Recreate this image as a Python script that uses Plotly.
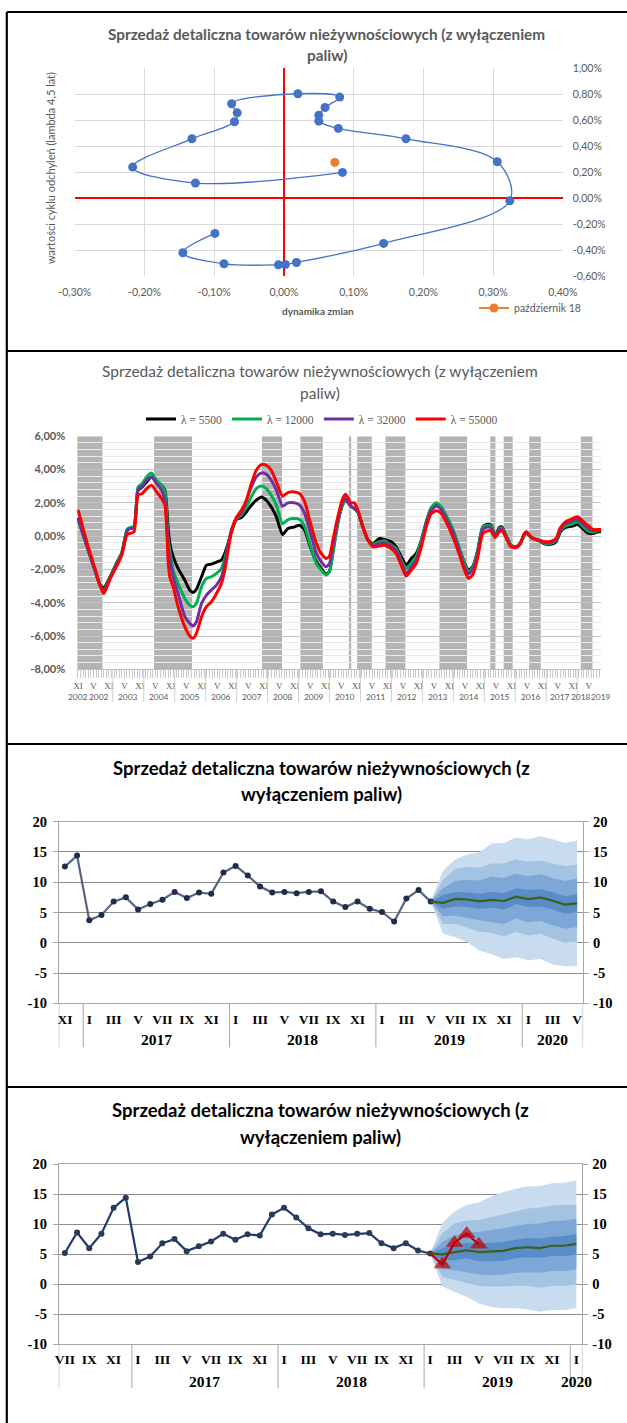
import plotly.graph_objects as go

W, H = 627, 1423


def X(p):
    return p / W


def Y(p):
    return 1 - p / H


GRAY = "#595959"
SANS = "Lato"
SERIF = "Liberation Serif"

# ---------------- Panel 1: cycle clock ----------------
cycle_dyn = [-0.099, -0.145, -0.086, -0.008, 0.002, 0.018, 0.143, 0.324, 0.306, 0.175,
             0.078, 0.050, 0.050, 0.059, 0.080, 0.020, -0.075, -0.067, -0.071, -0.132,
             -0.217, -0.127, 0.084]
cycle_val = [-0.272, -0.421, -0.506, -0.514, -0.511, -0.496, -0.349, -0.021, 0.280, 0.457,
             0.537, 0.593, 0.639, 0.698, 0.778, 0.804, 0.727, 0.657, 0.588, 0.457,
             0.239, 0.116, 0.198]
last_dyn = [0.073]
last_val = [0.275]
last_label = "październik 18"
p1_xticks = [-0.3, -0.2, -0.1, 0.0, 0.1, 0.2, 0.3, 0.4]
p1_xtext = ["-0,30%", "-0,20%", "-0,10%", "0,00%", "0,10%", "0,20%", "0,30%", "0,40%"]
p1_yticks = [-0.6, -0.4, -0.2, 0.0, 0.2, 0.4, 0.6, 0.8, 1.0]
p1_ytext = ["-0,60%", "-0,40%", "-0,20%", "0,00%", "0,20%", "0,40%", "0,60%", "0,80%", "1,00%"]

# ---------------- Panel 2: HP-filter cycles (month index from XI 2001) ----------------
p2_month = [0, 4, 7, 8.5, 10, 12.4, 15, 17, 19, 20, 21.7, 23.3, 24.9, 26.6, 28.5, 30.5, 32.4,
            33.7, 35, 35.6, 36.9, 38.8, 41.4, 43.3, 44.6, 45.9, 47.9, 49.8, 51.7, 53.7, 55.6,
            56.9, 58.2, 59.5, 61.4, 63.3, 65.3, 67.2, 69.1, 71.1, 73, 74.9, 76.9, 79.3, 81.4,
            84, 85.9, 87.9, 89.8, 92.4, 94.3, 96.2, 97.5, 98.8, 100.7, 102.6, 103.7, 104.5,
            105.8, 107.1, 108.5, 110.4, 112.4, 114.3, 116.9, 118.8, 121.4, 123.3, 125.3, 127.2,
            129.2, 131.1, 133.1, 135, 136.9, 138.9, 140.8, 142.7, 145.3, 147.9, 149.8, 151.4,
            153.1, 155, 156.9, 158.8, 160.1, 161.7, 163.3, 164.3, 165.8, 167.8, 169.7, 171.3,
            173, 173.9, 175.6, 177.5, 179.5, 181.2, 183.7, 185.3, 187, 188.9, 191.7, 193.6,
            195.6, 197.5, 199.7, 201.4, 202.8]
lam5500 = [1.1, -0.85, -2.25, -2.9, -3.1, -2.45, -1.6, -1.0, 0.35, 0.45, 0.55, 2.76, 2.96, 3.26,
           3.56, 3.26, 3.06, 2.76, 0.36, -0.44, -1.24, -1.94, -2.64, -3.24, -3.38, -3.2, -2.44,
           -1.74, -1.68, -1.56, -1.44, -1.04, -0.44, 0.26, 1.0, 1.12, 1.46, 1.86, 2.16, 2.36,
           2.16, 1.76, 1.16, 0.1, 0.46, 0.56, 0.66, 0.36, -0.54, -1.54, -1.94, -2.28, -2.1,
           -0.95, 0.8, 1.9, 2.16, 2.06, 1.8, 1.66, 1.46, 0.56, -0.24, -0.44, -0.14, -0.2,
           -0.34, -0.64, -1.24, -1.74, -1.34, -1.04, -0.24, 0.86, 1.66, 1.92, 1.72, 1.2, 0.36,
           -0.8, -1.6, -2.04, -1.8, -0.8, 0.56, 0.72, 0.66, 0.06, 0.52, 0.56, 0.06, -0.54,
           -0.64, -0.44, 0.06, 0.2, -0.08, -0.2, -0.34, -0.48, -0.48, -0.34, 0.26, 0.52, 0.6,
           0.72, 0.46, 0.2, 0.16, 0.26, 0.26]
lam12000 = [1.0, -0.85, -2.25, -2.9, -3.2, -2.5, -1.65, -1.0, 0.4, 0.5, 0.6, 2.96, 3.16, 3.56,
            3.8, 3.35, 3.06, 2.66, -0.24, -0.84, -2.04, -2.84, -3.74, -4.14, -4.24, -4.04,
            -3.04, -2.54, -2.44, -2.24, -1.94, -1.34, -0.54, 0.36, 1.0, 1.26, 1.76, 2.36, 2.86,
            3.02, 2.86, 2.46, 1.86, 0.75, 1.0, 1.06, 1.0, 0.56, -0.44, -1.64, -2.04, -2.34,
            -2.14, -1.04, 0.76, 1.92, 2.1, 2.06, 1.8, 1.66, 1.46, 0.56, -0.24, -0.48, -0.34,
            -0.28, -0.54, -0.74, -1.44, -1.94, -1.64, -1.24, -0.24, 0.86, 1.72, 2.0, 1.76, 1.26,
            0.4, -0.74, -1.64, -2.14, -1.84, -0.84, 0.56, 0.66, 0.62, 0.04, 0.46, 0.5, 0.05,
            -0.56, -0.66, -0.46, 0.08, 0.22, -0.06, -0.2, -0.32, -0.44, -0.42, -0.28, 0.34, 0.62,
            0.74, 0.86, 0.6, 0.34, 0.24, 0.32, 0.32]
lam32000 = [1.05, -0.85, -2.25, -2.95, -3.25, -2.55, -1.7, -1.05, 0.3, 0.45, 0.5, 2.8, 3.0, 3.36,
            3.56, 3.16, 2.76, 2.16, -0.64, -1.34, -2.44, -3.44, -4.84, -5.24, -5.4, -5.14,
            -4.04, -3.54, -3.24, -2.94, -2.44, -1.64, -0.54, 0.36, 1.06, 1.36, 2.16, 2.96, 3.56,
            3.8, 3.72, 3.36, 2.76, 1.8, 2.0, 2.0, 1.86, 1.36, 0.36, -1.04, -1.54, -1.84, -1.64,
            -0.64, 0.96, 2.06, 2.26, 2.06, 1.8, 1.66, 1.46, 0.56, -0.24, -0.54, -0.44, -0.4,
            -0.6, -0.88, -1.54, -2.24, -1.84, -1.44, -0.44, 0.76, 1.56, 1.8, 1.6, 1.06, 0.26,
            -0.94, -1.84, -2.28, -2.0, -1.0, 0.4, 0.55, 0.5, 0.0, 0.4, 0.42, 0.0, -0.6, -0.68,
            -0.48, 0.12, 0.24, -0.05, -0.2, -0.3, -0.4, -0.36, -0.2, 0.42, 0.74, 0.9, 1.0, 0.76,
            0.5, 0.32, 0.36, 0.36]
lam55000 = [1.6, -0.65, -2.15, -2.95, -3.45, -2.6, -1.8, -1.15, 0.1, 0.16, 0.26, 2.46, 2.56,
            2.86, 3.06, 2.66, 2.26, 1.86, -1.64, -2.44, -3.04, -4.24, -5.44, -6.0, -6.14, -5.84,
            -4.84, -4.24, -3.94, -3.44, -2.84, -2.04, -0.84, 0.26, 1.12, 1.56, 2.16, 3.16, 3.96,
            4.3, 4.26, 3.96, 3.26, 2.4, 2.62, 2.66, 2.56, 2.06, 0.96, -0.44, -1.04, -1.34, -1.2,
            -0.24, 1.16, 2.26, 2.52, 2.36, 2.0, 2.0, 1.56, 0.56, -0.24, -0.64, -0.6, -0.54,
            -0.74, -1.04, -1.74, -2.4, -2.04, -1.64, -0.64, 0.56, 1.36, 1.52, 1.36, 0.86, -0.04,
            -1.14, -2.04, -2.54, -2.3, -1.24, 0.16, 0.32, 0.32, -0.08, 0.26, 0.32, -0.04, -0.64,
            -0.7, -0.5, 0.16, 0.26, -0.04, -0.2, -0.28, -0.34, -0.28, -0.14, 0.52, 0.86, 1.06,
            1.16, 0.92, 0.66, 0.4, 0.4, 0.4]
band_start = [-0.3, 29.5, 71.3, 86.2, 105.0, 108.2, 119.2, 140.1, 159.8, 165.0, 174.9, 194.9]
band_end = [9.5, 44.2, 79.1, 94.9, 105.9, 113.9, 126.9, 150.8, 161.8, 168.5, 179.4, 199.4]
p2_yticks = [-8, -6, -4, -2, 0, 2, 4, 6]
p2_ytext = ["-8,00%", "-6,00%", "-4,00%", "-2,00%", "0,00%", "2,00%", "4,00%", "6,00%"]
p2_year_text = ["2002", "2002", "2003", "2004", "2005", "2006", "2007", "2008", "2009",
                "2010", "2011", "2012", "2013", "2014", "2015", "2016", "2017", "2018", "2019"]
p2_year_pos = [0.0, 8.0, 19.5, 31.5, 43.5, 55.5, 67.5, 79.5, 91.5, 103.5, 115.5, 127.5,
               139.5, 151.5, 163.5, 175.5, 187.0, 195.0, 202.6]
p2_year_sep = [13.5, 25.5, 37.5, 49.5, 61.5, 73.5, 85.5, 97.5, 109.5, 121.5, 133.5, 145.5,
               157.5, 169.5, 181.5, 193.5]
p2_last_month = 202

ROMAN = ["I", "II", "III", "IV", "V", "VI", "VII", "VIII", "IX", "X", "XI", "XII"]

# ---------------- Panel 3: fan chart (XI 2016 - V 2020) ----------------
p3_hist = [12.6, 14.4, 3.7, 4.6, 6.8, 7.5, 5.5, 6.4, 7.1, 8.4, 7.4, 8.3, 8.1, 11.6, 12.7, 11.1,
           9.3, 8.3, 8.4, 8.2, 8.4, 8.5, 6.8, 5.9, 6.8, 5.6, 5.1, 3.5, 7.3, 8.7, 6.8]
p3_center = [6.8, 6.6, 7.25, 7.15, 6.85, 7.1, 6.9, 7.6, 7.2, 7.5, 6.95, 6.3, 6.5]
p3_out_up = [6.8, 11.9, 13.8, 14.6, 15.0, 16.4, 16.5, 17.4, 17.1, 17.6, 17.1, 16.5, 16.9]
p3_b2_up = [6.8, 10.4, 12.2, 12.5, 12.4, 13.1, 13.1, 13.8, 13.4, 13.6, 13.1, 12.7, 12.9]
p3_b3_up = [6.8, 9.0, 10.2, 10.4, 10.3, 10.9, 10.7, 11.4, 11.0, 11.3, 10.7, 10.2, 10.6]
p3_in_up = [6.8, 7.9, 8.4, 8.3, 8.1, 8.4, 8.2, 9.0, 8.7, 8.9, 8.3, 7.7, 8.0]
p3_in_lo = [6.8, 5.6, 6.0, 5.9, 5.6, 5.8, 5.5, 6.4, 5.9, 6.0, 5.5, 4.8, 5.1]
p3_b3_lo = [6.8, 4.4, 4.5, 4.1, 3.7, 3.4, 3.1, 4.0, 3.4, 3.6, 2.9, 2.3, 2.6]
p3_b2_lo = [6.8, 3.1, 3.1, 2.5, 1.8, 1.6, 1.0, 1.8, 1.2, 1.5, 0.7, 0.0, 0.2]
p3_out_lo = [6.8, 1.5, 0.9, 0.1, -1.3, -1.9, -2.7, -2.4, -2.9, -2.7, -3.6, -3.9, -3.9]

# ---------------- Panel 4: fan chart (VII 2016 - I 2020) ----------------
p4_hist = [5.2, 8.6, 6.0, 8.4, 12.7, 14.4, 3.7, 4.6, 6.8, 7.5, 5.5, 6.3, 7.1, 8.4, 7.4, 8.3,
           8.1, 11.6, 12.7, 11.1, 9.3, 8.3, 8.4, 8.2, 8.4, 8.5, 6.8, 6.0, 6.8, 5.6, 5.1]
p4_actual = [5.1, 3.3, 6.9, 8.4, 6.6]
p4_center = [5.1, 4.95, 5.35, 5.65, 5.35, 5.45, 5.55, 6.0, 6.15, 6.0, 6.4, 6.4, 6.7]
p4_out_up = [5.1, 10.2, 12.1, 13.2, 13.6, 14.6, 15.3, 15.9, 16.3, 16.3, 16.8, 16.9, 17.3]
p4_b2_up = [5.1, 8.5, 10.1, 10.6, 10.7, 11.2, 11.6, 12.1, 12.6, 12.7, 13.1, 13.2, 13.2]
p4_b3_up = [5.1, 7.1, 8.1, 8.6, 8.7, 9.0, 9.3, 9.7, 10.0, 10.1, 10.5, 10.6, 10.9]
p4_in_up = [5.1, 6.0, 6.6, 6.9, 6.8, 6.9, 7.0, 7.4, 7.7, 7.6, 7.9, 8.0, 8.3]
p4_in_lo = [5.1, 4.0, 4.0, 4.3, 3.8, 3.8, 3.9, 4.3, 4.5, 4.4, 4.7, 4.7, 4.9]
p4_b3_lo = [5.1, 2.6, 2.3, 2.0, 1.6, 1.5, 1.6, 1.9, 2.0, 1.9, 2.2, 2.2, 2.5]
p4_b2_lo = [5.1, 1.2, 0.7, 0.2, -0.3, -0.4, -0.4, -0.3, -0.3, -0.6, -0.3, -0.3, -0.05]
p4_out_lo = [5.1, -0.4, -1.3, -2.1, -3.2, -3.8, -4.0, -4.0, -4.2, -4.6, -4.3, -4.3, -4.0]

fan_yticks = [-10, -5, 0, 5, 10, 15, 20]
fan_ytext = ["-10", "-5", "0", "5", "10", "15", "20"]
FAN_COLORS = ["#c9dcef", "#a3c3e3", "#7ca7d6", "#5a8dc8"]


def month_list(start, end):
    out = []
    y, m = start
    while (y, m) <= end:
        out.append((y, m))
        m += 1
        if m > 12:
            y, m = y + 1, 1
    return out


p3_cats = month_list((2016, 11), (2020, 5))
p4_cats = month_list((2016, 7), (2020, 1))

fig = go.Figure()

# ---- Panel 1 traces
fig.add_trace(go.Scatter(
    x=cycle_dyn, y=cycle_val, mode="lines+markers", xaxis="x", yaxis="y",
    line=dict(color="#4472c4", width=1.3, shape="spline", smoothing=1.0),
    marker=dict(color="#4472c4", size=9), showlegend=False, hoverinfo="skip"))
fig.add_trace(go.Scatter(
    x=last_dyn, y=last_val, mode="lines+markers", xaxis="x", yaxis="y", name=last_label,
    line=dict(color="#ed7d31", width=2), marker=dict(color="#ed7d31", size=9),
    legend="legend2", showlegend=True))

# ---- Panel 2 traces
for name, vals, col in [("λ = 5500", lam5500, "#000000"), ("λ = 12000", lam12000, "#00b050"),
                        ("λ = 32000", lam32000, "#7030a0"), ("λ = 55000", lam55000, "#ff0000")]:
    fig.add_trace(go.Scatter(
        x=p2_month, y=vals, mode="lines", name=name, xaxis="x2", yaxis="y2",
        line=dict(color=col, width=3, shape="spline", smoothing=0.6), legend="legend"))


# ---- Fan panels
def add_fan(xa, ya, ya_r, hist, start_idx, bands, center, hist_color, marker_color):
    fidx = list(range(start_idx, start_idx + len(center)))
    for (up, lo), col in zip(bands, FAN_COLORS):
        fig.add_trace(go.Scatter(
            x=fidx + fidx[::-1], y=up + lo[::-1], fill="toself", fillcolor=col, mode="none",
            xaxis=xa, yaxis=ya, showlegend=False, hoverinfo="skip"))
    fig.add_trace(go.Scatter(
        x=list(range(len(hist))), y=hist, mode="lines+markers", xaxis=xa, yaxis=ya,
        line=dict(color=hist_color, width=2.2), marker=dict(color=marker_color, size=6),
        showlegend=False))
    fig.add_trace(go.Scatter(
        x=fidx, y=center, mode="lines", xaxis=xa, yaxis=ya,
        line=dict(color="#3d5f1c", width=2.2), showlegend=False))
    fig.add_trace(go.Scatter(x=[0], y=[0], mode="none", xaxis=xa, yaxis=ya_r,
                             showlegend=False, hoverinfo="skip"))


p3_start = len(p3_hist) - 1
add_fan("x3", "y3", "y5", p3_hist, p3_start,
        [(p3_out_up, p3_out_lo), (p3_b2_up, p3_b2_lo), (p3_b3_up, p3_b3_lo), (p3_in_up, p3_in_lo)],
        p3_center, "#56647d", "#1f2d4a")
p4_start = len(p4_hist) - 1
add_fan("x4", "y4", "y6", p4_hist, p4_start,
        [(p4_out_up, p4_out_lo), (p4_b2_up, p4_b2_lo), (p4_b3_up, p4_b3_lo), (p4_in_up, p4_in_lo)],
        p4_center, "#1f3a6e", "#2b3b55")
fig.add_trace(go.Scatter(
    x=list(range(p4_start, p4_start + len(p4_actual))), y=p4_actual, mode="lines+markers",
    xaxis="x4", yaxis="y4", line=dict(color="#c00000", width=2.2),
    marker=dict(color="#c00000", symbol="triangle-up", size=[0] + [14] * (len(p4_actual) - 1),
                line=dict(color="#c00000", width=1)),
    showlegend=False))

# ---------------- Layout ----------------
shapes = []
annotations = []


def ann(text, x, y, size, color="#000", family=SANS, weight="normal", xref="paper",
        xanchor="center", angle=0):
    annotations.append(dict(text=text, x=x, y=Y(y), xref=xref, yref="paper",
                            xanchor=xanchor, yanchor="middle", showarrow=False,
                            textangle=angle,
                            font=dict(family=family, size=size, color=color, weight=weight)))


# borders
BL = 6.8
shapes.append(dict(type="line", xref="paper", yref="paper", x0=X(BL), x1=1, y0=Y(12), y1=Y(12),
                   line=dict(color="#000", width=2.2)))
shapes.append(dict(type="line", xref="paper", yref="paper", x0=X(BL), x1=X(BL), y0=Y(12), y1=0,
                   line=dict(color="#000", width=2.2)))
for yy in [351, 744, 1087]:
    shapes.append(dict(type="line", xref="paper", yref="paper", x0=X(BL), x1=1, y0=Y(yy),
                       y1=Y(yy), line=dict(color="#000", width=2.2)))

# titles
t1, t2 = "Sprzedaż detaliczna towarów nieżywnościowych (z wyłączeniem", "paliw)"
ann(t1, X(327), 34, 15.3, GRAY, weight="bold")
ann(t2, X(327), 55, 15.3, GRAY, weight="bold")
ann(t1, X(320), 371, 15.5, GRAY)
ann(t2, X(320), 393, 15.5, GRAY)
s1, s2 = "Sprzedaż detaliczna towarów nieżywnościowych (z", "wyłączeniem paliw)"
ann(s1, X(321), 768, 18.5, "#000", weight="bold")
ann(s2, X(321), 794, 18.5, "#000", weight="bold")
ann(s1, X(320), 1110, 18.5, "#000", weight="bold")
ann(s2, X(320), 1137, 18.5, "#000", weight="bold")

# panel 1 axis titles
ann("dynamika zmian", X(318), 311, 10, GRAY, weight="bold")
ann("wartości cyklu odchyleń (lambda 4,5 lat)", X(51), 168, 11, GRAY, angle=-90)

# panel 2 bands, separators, year labels
for a, b in zip(band_start, band_end):
    shapes.append(dict(type="rect", xref="x2", yref="y2", x0=a, x1=b, y0=-8, y1=6,
                       fillcolor="#b4b4b4", line=dict(width=0), layer="below"))
for sep in p2_year_sep:
    shapes.append(dict(type="line", xref="x2", yref="paper", x0=sep, x1=sep, y0=Y(669.3),
                       y1=Y(702), line=dict(color="#d0d0d0", width=1)))
for txt, pos in zip(p2_year_text, p2_year_pos):
    ann(txt, pos, 697, 8.4, GRAY, xref="x2")

p2_tickvals = list(range(0, p2_last_month + 1))
p2_ticktext = ["XI" if m % 12 == 0 else ("V" if m % 12 == 6 else "") for m in p2_tickvals]


# fan panel separators & year labels
def fan_axis_extras(cats, xa, bottom, year_y):
    bounds = [-0.5] + [i - 0.5 for i in range(1, len(cats)) if cats[i][0] != cats[i - 1][0]] \
             + [len(cats) - 0.5]
    for b in bounds:
        shapes.append(dict(type="line", xref=xa, yref="paper", x0=b, x1=b, y0=Y(bottom),
                           y1=Y(bottom + 44), line=dict(color="#a6a6a6", width=1)))
    years = sorted(set(c[0] for c in cats))
    for yv in years:
        idx = [i for i, c in enumerate(cats) if c[0] == yv]
        if yv == cats[0][0]:
            continue
        ann(str(yv), (idx[0] + idx[-1]) / 2, year_y, 15.5, "#000", family=SERIF, weight="bold",
            xref=xa)


fan_axis_extras(p3_cats, "x3", 1003.3, 1039)
fan_axis_extras(p4_cats, "x4", 1344.3, 1381)


def month_ticks(cats):
    vals = list(range(0, len(cats), 2))
    return vals, [ROMAN[cats[i][1] - 1] for i in vals]


p3_tv, p3_tt = month_ticks(p3_cats)
p4_tv, p4_tt = month_ticks(p4_cats)

axis_font1 = dict(family=SANS, size=10.5, color=GRAY)
fan_tick_font = dict(family=SERIF, size=14.5, color="#000", weight="bold")
month_font = dict(family=SERIF, size=13.5, color="#000", weight="bold")


def fan_y(domain, anchor, side="left", overlaying=None):
    d = dict(domain=domain, range=[-10, 20], tickvals=fan_yticks, ticktext=fan_ytext,
             anchor=anchor, side=side, ticks="outside", ticklen=5, tickcolor="#a6a6a6",
             tickfont=fan_tick_font, zeroline=False, fixedrange=True,
             showline=True, linecolor="#a6a6a6")
    if overlaying:
        d.update(overlaying=overlaying, showgrid=False, ticklabelstandoff=1)
    else:
        d.update(showgrid=True, gridcolor="#8c8c8c", gridwidth=1, ticklabelstandoff=3)
    return d


fig.update_layout(
    width=W, height=H, margin=dict(l=0, r=0, t=0, b=0, pad=0, autoexpand=False),
    autosize=False,
    paper_bgcolor="white", plot_bgcolor="white",
    # panel 1
    xaxis=dict(domain=[X(74.8), X(562.8)], range=[-0.3, 0.4], tickvals=p1_xticks,
               ticktext=p1_xtext, showgrid=True, gridcolor="#d9d9d9", zeroline=True,
               zerolinecolor="#ff0000", zerolinewidth=1.6, tickfont=axis_font1, anchor="y",
               ticklabelstandoff=8, fixedrange=True),
    yaxis=dict(domain=[Y(276), Y(68.3)], range=[-0.6, 1.0], tickvals=p1_yticks,
               ticktext=p1_ytext, side="right", showgrid=True, gridcolor="#d9d9d9",
               zeroline=True, zerolinecolor="#ff0000", zerolinewidth=1.6, tickfont=axis_font1,
               anchor="x", ticklabelstandoff=9, fixedrange=True),
    # panel 2
    xaxis2=dict(domain=[X(77.2), X(601.2)], range=[-0.3, 202.8], tickvals=p2_tickvals,
                ticktext=p2_ticktext, ticks="outside", ticklen=8, tickcolor="#c8c8c8",
                tickwidth=1, showgrid=False, showline=True, linecolor="#bfbfbf", zeroline=False,
                tickfont=dict(family=SERIF, size=9, color=GRAY), anchor="y2", tickangle=0,
                fixedrange=True),
    yaxis2=dict(domain=[Y(669.3), Y(436.3)], range=[-8, 6], tickvals=p2_yticks,
                ticktext=p2_ytext, showgrid=True, gridcolor="#c4c4c4", zeroline=False,
                minor=dict(dtick=0.4, tick0=0, showgrid=True, gridcolor="#e9e9e9"),
                tickfont=dict(family=SANS, size=11, color=GRAY, weight="bold"), anchor="x2",
                ticklabelstandoff=11, fixedrange=True),
    # panel 3
    xaxis3=dict(domain=[X(58.8), X(583.2)], range=[-0.5, len(p3_cats) - 0.5], tickvals=p3_tv,
                ticktext=p3_tt, showgrid=False, zeroline=False, showline=True, mirror=True,
                linecolor="#a6a6a6", tickfont=month_font, anchor="y3", ticklabelstandoff=3,
                tickangle=0, fixedrange=True),
    yaxis3=fan_y([Y(1003.3), Y(821.7)], "x3"),
    yaxis5=fan_y([Y(1003.3), Y(821.7)], "x3", side="right", overlaying="y3"),
    # panel 4
    xaxis4=dict(domain=[X(58.8), X(582.4)], range=[-0.5, len(p4_cats) - 0.5], tickvals=p4_tv,
                ticktext=p4_tt, showgrid=False, zeroline=False, showline=True, mirror=True,
                linecolor="#a6a6a6", tickfont=month_font, anchor="y4", ticklabelstandoff=2,
                tickangle=0, fixedrange=True),
    yaxis4=fan_y([Y(1344.3), Y(1164)], "x4"),
    yaxis6=fan_y([Y(1344.3), Y(1164)], "x4", side="right", overlaying="y4"),
    legend=dict(orientation="h", x=X(322), xanchor="center", y=Y(419), yanchor="middle",
                font=dict(family=SERIF, size=11.5, color=GRAY), itemwidth=30,
                bgcolor="rgba(0,0,0,0)", tracegroupgap=0),
    legend2=dict(x=X(474), xanchor="left", y=Y(308), yanchor="middle",
                 font=dict(family=SANS, size=10.5, color=GRAY), itemwidth=30,
                 bgcolor="rgba(0,0,0,0)"),
    shapes=shapes, annotations=annotations, showlegend=True,
)

fig.write_html("out.html", include_plotlyjs=True,
               config=dict(displayModeBar=False, responsive=False, staticPlot=True),
               post_script="document.body.style.margin='0';")
